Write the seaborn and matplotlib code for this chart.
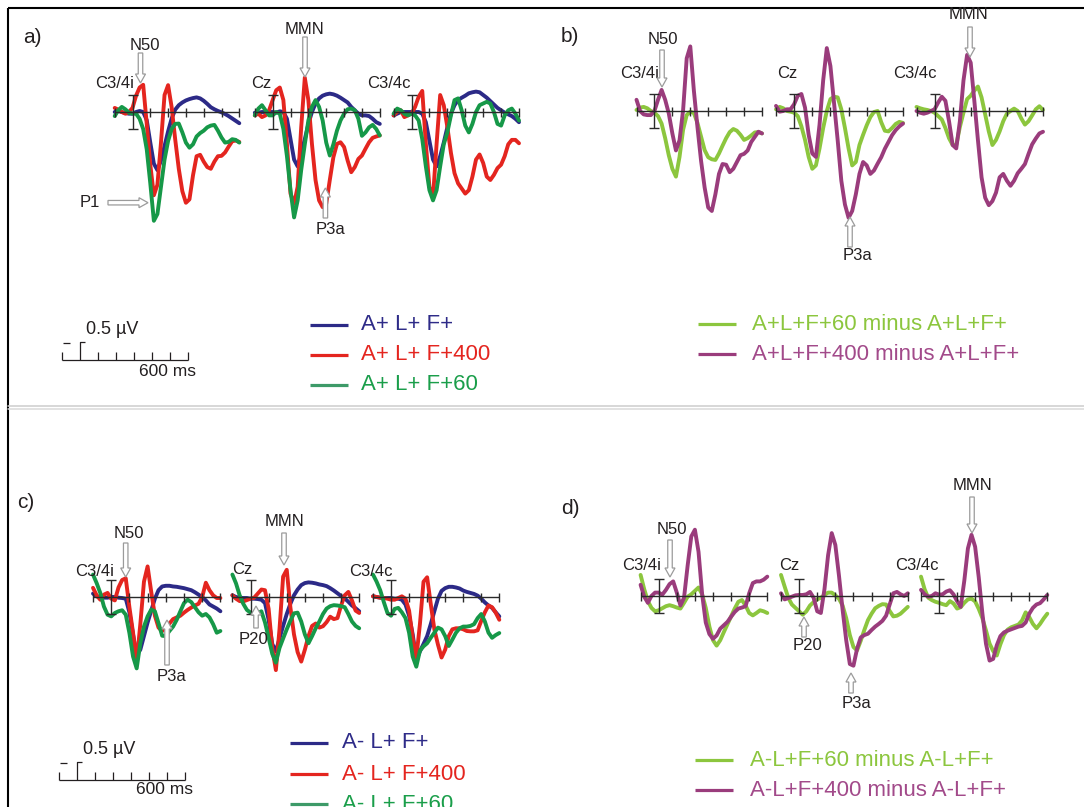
import pandas as pd
import matplotlib
matplotlib.use("Agg")
import matplotlib.pyplot as plt
from matplotlib.patches import FancyArrow
import seaborn as sns

sns.set_style("white")
plt.rcParams["font.family"] = ["Liberation Sans", "DejaVu Sans"]

# ---------------------------------------------------------------- data
TIMES_MS = list(range(-100, 601, 20))          # sample times, ms
ELECTRODES = ["C3/4i", "Cz", "C3/4c"]

COND_TOP = ["A+ L+ F+", "A+ L+ F+400", "A+ L+ F+60"]
COND_BOTTOM = ["A- L+ F+", "A- L+ F+400", "A- L+ F+60"]
DIFF_TOP = ["A+L+F+60 minus A+L+F+", "A+L+F+400 minus A+L+F+"]
DIFF_BOTTOM = ["A-L+F+60 minus A-L+F+", "A-L+F+400 minus A-L+F+"]

# amplitudes in microvolts (negative plotted upwards)
# a) A+ L+ conditions
a_ipsi_base = [0, -0.03, 0, 0.03, 0.05, 0.05, 0, -0.03, 0, 0.24, 0.9, 1.52, 1.71, 1.43, 1.0, 0.57, 0.19, -0.07,
               -0.2, -0.28, -0.34, -0.38, -0.41, -0.43, -0.4, -0.33, -0.24, -0.14, -0.08, -0.03, 0.01, 0.06, 0.12, 0.19, 0.26, 0.33]
a_ipsi_f400 = [-0.12, -0.07, 0, 0.05, 0, -0.12, -0.48, -0.72, -0.8, 0.35, 1.55, 2.45, 2.14, 0.9, -0.5, -0.79, -0.14, 0.81,
               1.67, 2.33, 2.67, 2.57, 1.86, 1.3, 1.26, 1.46, 1.62, 1.67, 1.46, 1.3, 1.29, 1.19, 1.02, 0.86, 0.84, 0.88]
a_ipsi_f60 = [0.12, -0.05, -0.15, -0.08, 0.02, 0.05, 0.05, 0.2, 0.5, 1.1, 2.1, 3.2, 3.0, 2.2, 1.4, 0.85, 0.5, 0.35,
              0.34, 0.6, 0.9, 1.05, 0.95, 0.72, 0.62, 0.55, 0.45, 0.4, 0.38, 0.55, 0.75, 0.9, 0.88, 0.8, 0.82, 0.9]
a_cz_base = [0.02, 0.02, 0, 0, 0, 0, 0.02, -0.02, 0, 0.2, 0.8, 1.4, 1.6, 1.2, 0.8, 0.35, 0, -0.25,
             -0.4, -0.48, -0.52, -0.54, -0.52, -0.48, -0.42, -0.35, -0.28, -0.15, -0.05, 0.05, 0.1, 0.1, 0.12, 0.2, 0.3, 0.35]
a_cz_f400 = [0.1, 0.05, 0.15, 0.1, -0.05, -0.35, -0.64, -0.72, -0.35, 0.94, 2.4, 2.7, 2.2, 0.44, -1.01, -0.35, 0.94, 2.0,
             2.6, 2.8, 2.7, 2.0, 1.33, 0.94, 0.89, 1.03, 1.43, 1.77, 1.62, 1.38, 1.28, 1.08, 0.89, 0.76, 0.72, 0.69]
a_cz_f60 = [0.1, -0.1, -0.2, -0.05, 0.1, 0.1, 0.0, 0.05, 0.5, 1.3, 2.3, 3.1, 2.6, 1.7, 0.95, 0.25, -0.15, -0.35,
            -0.15, 0.25, 0.9, 1.28, 0.95, 0.55, 0.25, 0.05, -0.08, -0.1, -0.05, 0.2, 0.7, 0.6, 0.45, 0.38, 0.5, 0.69]
a_contra_base = [0.1, 0.05, 0, 0, 0, 0, 0, 0, 0.05, 0.3, 0.85, 1.4, 1.6, 1.3, 0.9, 0.45, 0.05, -0.2,
                 -0.35, -0.42, -0.48, -0.55, -0.58, -0.6, -0.58, -0.5, -0.42, -0.32, -0.22, -0.12, -0.05, 0.02, 0.07, 0.12, 0.2, 0.3]
a_contra_f400 = [0.1, 0.0, -0.05, 0.15, 0.1, 0.05, -0.15, -0.45, -0.62, 0.94, 2.2, 2.5, 0.94, -0.5, -0.2, 0.44, 1.2, 1.8,
                 2.1, 2.25, 2.4, 2.3, 1.9, 1.4, 1.25, 1.5, 1.9, 2.0, 1.85, 1.65, 1.55, 1.3, 0.95, 0.82, 0.82, 0.92]
a_contra_f60 = [0.05, -0.1, -0.05, 0.05, 0.1, 0.05, 0.1, 0.25, 0.8, 1.6, 2.3, 2.6, 2.3, 1.6, 0.95, 0.6, 0.1, -0.35,
                -0.4, -0.05, 0.4, 0.6, 0.35, 0.0, -0.2, -0.25, -0.3, -0.25, 0.0, 0.35, 0.4, 0.1, -0.05, -0.1, 0.05, 0.25]

# b) A+ L+ difference waves
b_ipsi_d60 = [-0.03, -0.1, -0.12, -0.08, 0.0, 0.05, 0.15, 0.37, 0.8, 1.3, 1.7, 1.93, 1.35, 0.55, 0.12, 0.02, 0.06, 0.35,
              0.75, 1.15, 1.36, 1.42, 1.44, 1.25, 1.02, 0.8, 0.62, 0.53, 0.58, 0.7, 0.85, 0.8, 0.72, 0.63, 0.62, 0.66]
b_ipsi_d400 = [-0.33, 0.0, 0.1, 0.12, 0.12, 0.0, -0.33, -0.62, -0.33, 0.07, 0.66, 1.16, 0.86, -0.03, -1.55, -1.9, -0.6, 0.47,
               1.46, 2.25, 2.84, 2.94, 2.45, 1.85, 1.56, 1.58, 1.8, 1.7, 1.5, 1.3, 1.26, 1.16, 0.91, 0.76, 0.61, 0.66]
b_cz_d60 = [-0.05, -0.12, -0.08, 0.0, 0.02, 0.05, 0.15, 0.45, 0.85, 1.35, 1.7, 1.6, 1.1, 0.5, 0.0, -0.35, -0.42, -0.4,
            -0.05, 0.5, 1.1, 1.6, 1.5, 1.0, 0.7, 0.42, 0.18, 0.03, 0.0, 0.33, 0.58, 0.6, 0.5, 0.38, 0.32, 0.35]
b_cz_d400 = [-0.15, 0.02, 0.0, -0.05, -0.05, -0.2, -0.45, -0.5, -0.1, 0.7, 1.25, 1.35, 0.4, -0.9, -1.85, -1.32, -0.23, 0.86,
             2.05, 2.75, 3.14, 2.94, 2.45, 1.85, 1.5, 1.6, 1.85, 1.75, 1.55, 1.36, 1.11, 0.91, 0.71, 0.56, 0.45, 0.37]
b_contra_d60 = [-0.12, -0.08, -0.05, -0.03, 0.0, 0.05, 0.15, 0.25, 0.5, 0.8, 1.0, 1.0, 0.47, 0.05, -0.35, -0.45, -0.6, -0.72,
                -0.4, 0.1, 0.6, 1.0, 0.85, 0.6, 0.3, 0.08, 0.0, -0.07, 0.0, 0.22, 0.4, 0.3, 0.13, -0.05, -0.14, -0.03]
b_contra_d400 = [0.0, 0.05, 0.08, 0.05, 0.0, -0.05, -0.25, -0.42, -0.3, 0.3, 1.0, 1.1, 0.3, -0.9, -1.65, -1.42, -0.3, 0.86,
                 1.95, 2.55, 2.77, 2.65, 2.4, 1.95, 1.85, 2.05, 2.2, 2.05, 1.83, 1.7, 1.56, 1.26, 0.98, 0.81, 0.66, 0.61]

# c) A- L+ conditions
c_ipsi_base = [-0.1, -0.02, 0.0, 0.02, 0.02, 0.0, 0.0, 0.02, 0.03, 0.05, 0.45, 1.1, 1.7, 1.55, 1.15, 0.75, 0.4, 0.05,
               -0.2, -0.31, -0.33, -0.33, -0.31, -0.3, -0.28, -0.26, -0.23, -0.2, -0.14, -0.07, 0.0, 0.1, 0.22, 0.28, 0.34, 0.42]
c_ipsi_f400 = [-0.27, -0.05, 0.08, -0.07, -0.12, 0.05, 0.1, -0.28, -0.5, -0.55, 0.3, 1.05, 1.9, 0.8, -0.45, -0.9, -0.15, 0.55,
               0.9, 1.0, 0.9, 0.78, 0.65, 0.6, 0.55, 0.46, 0.38, 0.31, 0.25, 0.2, 0.0, -0.42, -0.2, -0.05, 0.03, 0.03]
c_ipsi_f60 = [-0.66, -0.41, -0.12, 0.28, 0.52, 0.57, 0.47, 0.42, 0.39, 0.52, 1.06, 1.75, 2.1, 1.36, 0.87, 0.57, 0.37, 0.42,
              0.77, 1.14, 1.15, 1.0, 0.87, 0.67, 0.42, 0.18, 0.08, 0.15, 0.3, 0.45, 0.55, 0.5, 0.6, 0.8, 1.05, 1.0]
c_cz_base = [-0.05, 0.0, 0.02, 0.03, 0.03, 0.05, 0.05, 0.06, 0.08, 0.18, 0.67, 1.38, 1.6, 1.22, 0.85, 0.5, 0.2, -0.05,
             -0.22, -0.35, -0.41, -0.43, -0.42, -0.4, -0.37, -0.35, -0.32, -0.26, -0.19, -0.11, -0.03, 0.04, 0.14, 0.25, 0.33, 0.42]
c_cz_f400 = [-0.05, 0.05, 0.12, 0.13, 0.09, 0.05, 0.02, -0.1, -0.22, -0.2, 0.35, 1.5, 2.15, 0.95, -0.6, -0.8, 0.3, 1.1,
             1.62, 1.9, 1.55, 1.15, 0.85, 0.78, 0.9, 0.86, 0.74, 0.58, 0.65, 0.62, 0.25, -0.05, -0.15, 0.1, 0.4, 0.47]
c_cz_f60 = [-0.66, -0.4, -0.05, 0.2, 0.38, 0.46, 0.5, 0.48, 0.42, 0.75, 1.2, 1.67, 1.93, 1.5, 1.22, 0.95, 0.7, 0.48,
            0.46, 0.72, 1.1, 1.36, 1.15, 0.92, 0.72, 0.5, 0.34, 0.27, 0.24, 0.25, 0.27, 0.3, 0.5, 0.72, 0.85, 0.92]
c_contra_base = [-0.02, 0.0, 0.02, 0.03, 0.03, 0.03, 0.05, 0.05, 0.08, 0.22, 0.55, 1.1, 1.85, 1.6, 1.38, 1.15, 0.8, 0.42,
                 0.05, -0.18, -0.26, -0.3, -0.3, -0.28, -0.25, -0.19, -0.15, -0.12, -0.09, -0.04, 0.05, 0.16, 0.25, 0.32, 0.45, 0.57]
c_contra_f400 = [-0.02, 0.0, 0.02, 0.03, 0.05, 0.08, 0.08, 0.03, -0.02, 0.05, 0.4, 1.2, 1.8, 0.8, -0.45, -0.58, 0.2, 0.95,
                 1.4, 1.78, 1.55, 1.15, 0.95, 0.92, 0.92, 0.95, 1.0, 1.01, 1.01, 0.98, 0.7, 0.45, 0.25, 0.3, 0.46, 0.67]
c_contra_f60 = [-0.66, -0.45, -0.2, 0.15, 0.47, 0.55, 0.35, 0.32, 0.45, 0.62, 1.05, 1.75, 2.05, 1.58, 1.45, 1.36, 1.2, 1.05,
                0.9, 0.95, 1.15, 1.44, 1.25, 1.05, 0.92, 0.87, 0.87, 0.85, 0.8, 0.62, 0.5, 0.72, 1.05, 1.2, 1.12, 1.06]

# d) A- L+ difference waves
d_ipsi_d60 = [-0.62, -0.2, 0.15, 0.35, 0.45, 0.42, 0.36, 0.3, 0.27, 0.3, 0.34, 0.37, 0.2, 0.02, -0.05, -0.15, -0.25, -0.05,
              0.35, 0.9, 1.3, 1.46, 1.3, 1.06, 0.83, 0.6, 0.37, 0.17, 0.12, 0.28, 0.5, 0.57, 0.5, 0.42, 0.45, 0.5]
d_ipsi_d400 = [-0.33, 0.02, 0.2, 0.0, -0.1, -0.1, -0.04, -0.18, -0.35, -0.43, -0.1, 0.28, 0.05, -0.9, -1.75, -1.95, -1.3, -0.05,
               0.78, 1.12, 1.26, 1.16, 0.96, 0.86, 0.76, 0.61, 0.47, 0.37, 0.34, 0.3, -0.08, -0.38, -0.43, -0.43, -0.48, -0.57]
d_cz_d60 = [-0.62, -0.28, 0.05, 0.25, 0.35, 0.45, 0.55, 0.45, 0.28, 0.18, 0.1, 0.05, -0.03, -0.1, -0.1, -0.02, 0.08, 0.28,
            0.65, 1.15, 1.5, 1.6, 1.32, 1.0, 0.71, 0.52, 0.36, 0.29, 0.24, 0.25, 0.44, 0.6, 0.58, 0.52, 0.42, 0.32]
d_cz_d400 = [-0.08, 0.1, 0.06, 0.02, -0.02, -0.03, -0.03, -0.05, -0.12, 0.05, 0.45, 0.5, -0.2, -1.2, -1.85, -1.5, -0.6, 0.4,
             1.3, 2.0, 2.05, 1.55, 1.22, 1.15, 1.11, 1.0, 0.9, 0.82, 0.73, 0.58, 0.25, -0.08, -0.12, -0.05, 0.0, -0.08]
d_contra_d60 = [-0.57, -0.2, 0.05, 0.12, 0.17, 0.2, 0.24, 0.27, 0.15, 0.22, 0.37, 0.33, 0.2, 0.1, 0.08, 0.16, 0.38, 0.65,
                1.01, 1.4, 1.62, 1.75, 1.42, 1.15, 0.99, 0.92, 0.88, 0.84, 0.72, 0.48, 0.62, 0.82, 0.95, 0.82, 0.66, 0.52]
d_contra_d400 = [-0.18, -0.05, 0.02, 0.0, -0.08, -0.04, -0.05, -0.13, -0.17, -0.05, 0.15, 0.32, -0.45, -1.4, -1.8, -1.45, -0.55, 0.5,
                 1.4, 1.9, 1.85, 1.45, 1.18, 1.07, 1.02, 0.98, 0.94, 0.9, 0.88, 0.78, 0.52, 0.35, 0.25, 0.21, 0.1, -0.03]

# ---------------------------------------------------------------- style
INK = "#231f20"
BLUE = "#2c2a87"
RED = "#e4251f"
GREEN = "#169848"
LIME = "#8cc63e"
PURPLE = "#9a3c7c"
ARROW_EDGE = "#9b9b9b"

W, H, DPI = 1084, 807, 100
PX_PER_UV = 34.0
UP_UV, DOWN_UV = 3.2, 4.0

fig = plt.figure(figsize=(W / DPI, H / DPI), dpi=DPI)
fig.patch.set_facecolor("white")


def erp_axes(left, right, base):
    """Small axes whose x spans -100..600 ms and whose zero line sits at pixel row `base`."""
    h = (UP_UV + DOWN_UV) * PX_PER_UV
    ax = fig.add_axes([left / W, 1 - (base + DOWN_UV * PX_PER_UV) / H, (right - left) / W, h / H])
    return ax


def draw_erp(ax, left, right, names, series, colors):
    frame = pd.concat(
        [pd.DataFrame({"ms": TIMES_MS, "uV": vals, "cond": name}) for name, vals in zip(names, series)],
        ignore_index=True,
    )
    sns.lineplot(data=frame, x="ms", y="uV", hue="cond", hue_order=names,
                 palette=dict(zip(names, colors)), linewidth=2.8, errorbar=None,
                 legend=False, ax=ax, solid_capstyle="round", solid_joinstyle="round")
    for ln in ax.lines:
        ln.set_clip_on(False)
    px_per_ms = (right - left) / 700.0
    tick = 4.5 / PX_PER_UV
    kw = dict(color="#2a2a2a", lw=1.0, zorder=6, clip_on=False, solid_capstyle="butt")
    ax.plot([-100, 600], [0, 0], **kw)
    for t in (-100, 100, 200, 300, 400, 500, 600):
        ax.plot([t, t], [-tick, tick], **kw)
    cap = 5.0 / px_per_ms
    ax.plot([0, 0], [-0.5, 0.5], **kw)
    ax.plot([-cap, cap], [-0.5, -0.5], **kw)
    ax.plot([-cap, cap], [0.5, 0.5], **kw)
    ax.set_xlim(-100, 600)
    ax.set_ylim(DOWN_UV, -UP_UV)
    ax.set_axis_off()


PANELS = [
    # (baseline px, [(left, right) per electrode], names, per-electrode series, colours)
    (112, [(114.7, 239.3), (254.8, 379.8), (393.6, 519.0)], COND_TOP,
     [(a_ipsi_base, a_ipsi_f400, a_ipsi_f60), (a_cz_base, a_cz_f400, a_cz_f60),
      (a_contra_base, a_contra_f400, a_contra_f60)], [BLUE, RED, GREEN]),
    (111, [(636.5, 762.0), (776.0, 903.0), (916.5, 1043.0)], DIFF_TOP,
     [(b_ipsi_d60, b_ipsi_d400), (b_cz_d60, b_cz_d400), (b_contra_d60, b_contra_d400)], [LIME, PURPLE]),
    (597, [(93.0, 220.4), (232.4, 359.2), (373.0, 499.3)], COND_BOTTOM,
     [(c_ipsi_base, c_ipsi_f400, c_ipsi_f60), (c_cz_base, c_cz_f400, c_cz_f60),
      (c_contra_base, c_contra_f400, c_contra_f60)], [BLUE, RED, GREEN]),
    (596, [(640.6, 767.3), (781.0, 907.8), (921.0, 1047.3)], DIFF_BOTTOM,
     [(d_ipsi_d60, d_ipsi_d400), (d_cz_d60, d_cz_d400), (d_contra_d60, d_contra_d400)], [LIME, PURPLE]),
]

for base, spans, names, per_electrode, colors in PANELS:
    for (left, right), series in zip(spans, per_electrode):
        ax = erp_axes(left, right, base)
        draw_erp(ax, left, right, names, series, colors)

# ---------------------------------------------------------------- overlay in pixel coordinates
ov = fig.add_axes([0, 0, 1, 1], zorder=10)
ov.set_xlim(0, W)
ov.set_ylim(H, 0)
ov.set_axis_off()
ov.patch.set_visible(False)

# frame and separator
ov.plot([7.5, 7.5], [7.5, H], color="black", lw=1.5, solid_capstyle="butt")
ov.plot([7.5, W], [7.5, 7.5], color="black", lw=1.5, solid_capstyle="butt")
ov.plot([8, W], [405.5, 405.5], color="#cdcdcd", lw=1.1)
ov.plot([8, W], [409.0, 409.0], color="#dadada", lw=1.1)


def label(x, y, s, size=12, color=INK, ha="center"):
    ov.text(x, y, s, fontsize=size, color=color, ha=ha, va="center")


def hollow_arrow(x0, y0, x1, y1):
    ov.add_patch(FancyArrow(x0, y0, x1 - x0, y1 - y0, width=4.5, head_width=10, head_length=9,
                            length_includes_head=True, fc="white", ec=ARROW_EDGE, lw=0.9, zorder=20))


# panel letters
for x, y, s in [(32, 37.5, "a)"), (570, 36, "b)"), (26, 503, "c)"), (570, 509, "d)")]:
    label(x, y, s, size=15)

# electrode names
for xs, ys in [((114.5, 261, 389), (84, 84, 84)), ((640, 787, 914.6), (74, 73, 74)),
               ((95, 242, 371), (571, 569, 571)), ((642, 789.5, 917), (566, 566, 566))]:
    for x, y, name in zip(xs, ys, ELECTRODES):
        label(x, y, name)

# components with hollow arrows
for text_xy, s, arrow in [
    ((145, 46), "N50", (140.5, 53, 140.5, 83)),
    ((305, 30), "MMN", (305, 37, 305, 77)),
    ((90, 202.5), "P1", (108, 202.7, 148, 202.7)),
    ((330.6, 229), "P3a", (325.4, 218, 325.4, 188)),
    ((663, 40), "N50", (662, 50, 662, 87)),
    ((969, 14.5), "MMN", (970, 27, 970, 57)),
    ((857.5, 256), "P3a", (850, 247, 850, 217)),
    ((129, 533), "N50", (125.7, 543, 125.7, 577)),
    ((284.6, 521.5), "MMN", (284, 533, 284, 565)),
    ((254, 639), "P20", (256, 628, 256, 606)),
    ((172, 676.5), "P3a", (167, 665, 167, 620)),
    ((672, 529), "N50", (670, 540, 670, 577)),
    ((973, 485), "MMN", (972, 497, 972, 533)),
    ((808, 646), "P20", (804, 637, 804, 617)),
    ((856.6, 703.5), "P3a", (851, 693, 851, 673)),
]:
    hollow_arrow(*arrow)
    label(text_xy[0], text_xy[1], s)


def scale_bar(x0, yl, txt_gap):
    step = 18.0
    kw = dict(color=INK, lw=0.9, solid_capstyle="butt")
    ov.plot([x0, x0 + 7 * step], [yl, yl], **kw)
    for k in (0, 2, 3, 4, 5, 6, 7):
        ov.plot([x0 + k * step] * 2, [yl, yl - 8], **kw)
    xg = x0 + step
    ov.plot([xg, xg, xg + 5], [yl, yl - 18, yl - 18], **kw)
    ov.plot([x0 + 1, x0 + 8.5], [yl - 17.5, yl - 17.5], **kw)
    label(x0 + 50, yl - 30, "0.5 \u00b5V", size=13)
    label(x0 + 106, yl + txt_gap, "600 ms", size=12.5)


scale_bar(61.7, 360, 11.5)
scale_bar(58.8, 780, 9.5)


def legend_block(x_line, x_text, ys, names, line_colors, text_colors):
    for y, name, lc, tc in zip(ys, names, line_colors, text_colors):
        ov.plot([x_line, x_line + 38], [y, y], color=lc, lw=2.3, solid_capstyle="butt")
        label(x_text, y, name, size=16, color=tc, ha="left")


TEXT_BLUE, TEXT_RED, TEXT_GREEN = "#2e2b88", "#e4251f", "#1a9e4a"
TEXT_LIME, TEXT_PURPLE = "#8cc63e", "#a24a8a"
legend_block(310, 361, [325, 355, 385], COND_TOP, [BLUE, RED, "#3d9a68"], [TEXT_BLUE, TEXT_RED, TEXT_GREEN])
legend_block(698, 752, [324, 354], DIFF_TOP, [LIME, PURPLE], [TEXT_LIME, TEXT_PURPLE])
legend_block(290, 342, [743, 774, 804], COND_BOTTOM, [BLUE, RED, "#3d9a68"], [TEXT_BLUE, TEXT_RED, TEXT_GREEN])
legend_block(695, 750, [760, 790], DIFF_BOTTOM, [LIME, PURPLE], [TEXT_LIME, TEXT_PURPLE])

fig.savefig("out.png", dpi=DPI, facecolor="white")
